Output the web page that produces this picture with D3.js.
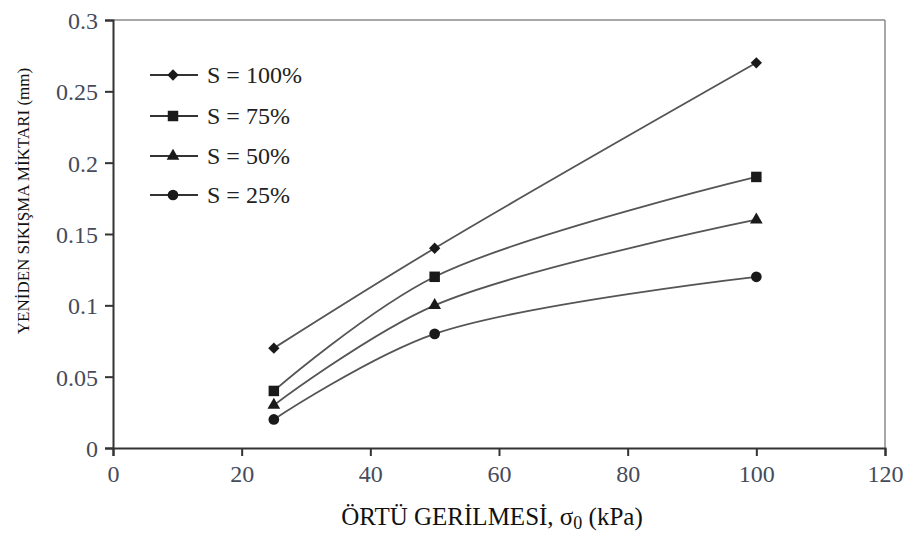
<!DOCTYPE html>
<html>
<head>
<meta charset="utf-8">
<script src="https://cdn.jsdelivr.net/npm/d3@7"></script>
<style>
  html, body { margin: 0; padding: 0; background: #fff; }
  svg { display: block; }
  svg text { font-family: "Liberation Serif", "Tinos", "Times New Roman", "DejaVu Serif", serif; }
</style>
</head>
<body>
<svg id="chart" width="910" height="534"></svg>
<script>
// Overburden stress (kPa) at which the tests were run
const stress = [25, 50, 100];
// Swell-shrink amount (mm) for each degree of saturation
const seriesNames = ["S = 100%", "S = 75%", "S = 50%", "S = 25%"];
const s100 = [0.07, 0.14, 0.27];
const s75  = [0.04, 0.12, 0.19];
const s50  = [0.03, 0.10, 0.16];
const s25  = [0.02, 0.08, 0.12];
const seriesValues = [s100, s75, s50, s25];

const xTicks = [0, 20, 40, 60, 80, 100, 120];
const yTicks = [0, 0.05, 0.1, 0.15, 0.2, 0.25, 0.3];
const yTickLabels = ["0", "0.05", "0.1", "0.15", "0.2", "0.25", "0.3"];

const SERIF = '"Liberation Serif", "Tinos", "Times New Roman", "DejaVu Serif", serif';

// Marker shapes: diamond (rotated square), square, triangle, circle
const markers = [
  { type: d3.symbolSquare, size: 64, rotate: 45 },
  { type: d3.symbolSquare, size: 110, rotate: 0 },
  { type: d3.symbolTriangle, size: 70, rotate: 0 },
  { type: d3.symbolCircle, size: 90, rotate: 0 }
];

const margin = { left: 113, top: 20, right: 25, bottom: 86 };
const W = 910, H = 534;
const svg = d3.select("#chart");

const x = d3.scaleLinear().domain([0, 120]).range([margin.left, W - margin.right]);
const y = d3.scaleLinear().domain([0, 0.3]).range([H - margin.bottom, margin.top]);

// Frame: top and right borders
svg.append("line")
  .attr("x1", x(0)).attr("x2", x(120)).attr("y1", y(0.3)).attr("y2", y(0.3))
  .attr("stroke", "#8a8a8a").attr("stroke-width", 1.5);
svg.append("line")
  .attr("x1", x(120)).attr("x2", x(120)).attr("y1", y(0.3)).attr("y2", y(0))
  .attr("stroke", "#8a8a8a").attr("stroke-width", 1.5);

// Axes
const xAxis = svg.append("g")
  .attr("transform", `translate(0,${y(0)})`)
  .call(d3.axisBottom(x).tickValues(xTicks).tickSize(8).tickPadding(9).tickFormat(d3.format("d")));
const yAxis = svg.append("g")
  .attr("transform", `translate(${x(0)},0)`)
  .call(d3.axisLeft(y).tickValues(yTicks).tickSize(8).tickPadding(7)
    .tickFormat((d, i) => yTickLabels[i]));

[xAxis, yAxis].forEach(g => {
  g.attr("font-family", SERIF);
  g.select(".domain").attr("stroke", "#333").attr("stroke-width", 2);
  g.selectAll(".tick line").attr("stroke", "#333").attr("stroke-width", 2);
  g.selectAll(".tick text")
    .attr("fill", "#454b5a")
    .style("font-family", SERIF)
    .style("font-size", "24px");
});
yAxis.selectAll(".tick text").attr("dy", "0.35em");

// Series curves
const line = d3.line()
  .x((d, i) => x(stress[i]))
  .y(d => y(d))
  .curve(d3.curveCatmullRom.alpha(0.5));

function drawMarker(sel, k) {
  const m = markers[k];
  sel.attr("d", d3.symbol().type(m.type).size(m.size))
    .attr("fill", "#1a1a1a");
}

seriesValues.forEach((vals, k) => {
  svg.append("path")
    .datum(vals)
    .attr("d", line)
    .attr("fill", "none")
    .attr("stroke", "#555")
    .attr("stroke-width", 1.8);
  svg.selectAll(null)
    .data(vals)
    .enter()
    .append("path")
    .attr("transform", (d, i) => `translate(${x(stress[i])},${y(d)}) rotate(${markers[k].rotate})`)
    .call(drawMarker, k);
});

// Legend
const legend = svg.append("g");
const legendY = [75, 116, 156, 195];
seriesNames.forEach((name, k) => {
  const ly = legendY[k];
  legend.append("line")
    .attr("x1", 150).attr("x2", 198).attr("y1", ly).attr("y2", ly)
    .attr("stroke", "#333").attr("stroke-width", 2);
  legend.append("path")
    .attr("transform", `translate(173,${ly}) rotate(${markers[k].rotate})`)
    .call(drawMarker, k);
  legend.append("text")
    .attr("x", 207).attr("y", ly).attr("dy", "0.35em")
    .attr("fill", "#222")
    .style("font-family", SERIF)
    .style("font-size", "24px")
    .text(name);
});

// Axis titles
const xTitle = svg.append("text")
  .attr("x", 492).attr("y", 525)
  .attr("text-anchor", "middle")
  .attr("fill", "#111")
  .style("font-family", SERIF)
  .style("font-size", "25px");
xTitle.append("tspan").text("ÖRTÜ GERİLMESİ, σ");
xTitle.append("tspan").attr("dy", 4).style("font-size", "18px").text("0");
xTitle.append("tspan").attr("dy", -4).text(" (kPa)");

svg.append("text")
  .attr("transform", `translate(29,201) rotate(-90)`)
  .attr("text-anchor", "middle")
  .attr("fill", "#111")
  .style("font-family", SERIF)
  .style("font-size", "17px")
  .text("YENİDEN SIKIŞMA MİKTARI (mm)");
</script>
</body>
</html>
